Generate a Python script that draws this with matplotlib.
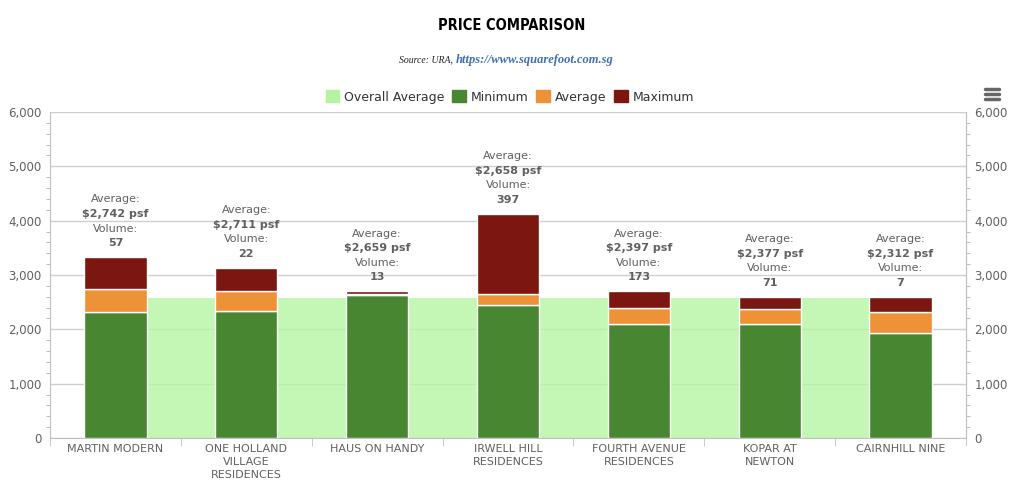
import matplotlib.pyplot as plt
from matplotlib.patches import Patch
from matplotlib.lines import Line2D
from matplotlib.ticker import MultipleLocator, FuncFormatter, FixedLocator

# data (psf)
projects = ['MARTIN MODERN', 'ONE HOLLAND\nVILLAGE\nRESIDENCES', 'HAUS ON HANDY',
            'IRWELL HILL\nRESIDENCES', 'FOURTH AVENUE\nRESIDENCES', 'KOPAR AT\nNEWTON',
            'CAIRNHILL NINE']
minimum = [2313, 2339, 2627, 2450, 2099, 2100, 1926]
average = [2742, 2711, 2659, 2658, 2397, 2377, 2312]
maximum = [3330, 3135, 2700, 4130, 2700, 2603, 2603]
volume = [57, 22, 13, 397, 173, 71, 7]
overall_avg = [2582, 2582, 2582, 2582, 2582, 2582, 2582]

c_overall = '#b4f4a0'
c_min = '#488632'
c_avg = '#ed9236'
c_max = '#7b1710'
txt = '#606060'

fig = plt.figure(figsize=(10.24, 5.01), dpi=100)
ax = fig.add_axes([50 / 1024, 1 - 438 / 501, 916 / 1024, 326 / 501])
x = list(range(len(projects)))

ax.fill_between(x, overall_avg, color=c_overall, alpha=0.78, lw=0, zorder=1)

w = 0.475
avg_part = [a - m for a, m in zip(average, minimum)]
max_part = [mx - a for mx, a in zip(maximum, average)]
ax.bar(x, minimum, w, color=c_min, edgecolor='white', lw=1, zorder=3)
ax.bar(x, avg_part, w, bottom=minimum, color=c_avg, edgecolor='white', lw=1, zorder=3)
ax.bar(x, max_part, w, bottom=average, color=c_max, edgecolor='white', lw=1, zorder=3)

for i in x:
    lines = [('Average:', 'normal'), ('${:,} psf'.format(average[i]), 'bold'),
             ('Volume:', 'normal'), (str(volume[i]), 'bold')]
    for k, (s, wt) in enumerate(lines):
        ax.annotate(s, (i, maximum[i]), xytext=(0, 41.5 - 10.5 * k), textcoords='offset points',
                    ha='center', va='center', fontsize=8, color=txt, fontweight=wt, zorder=5)

ax.set_xlim(-0.5, 6.5)
ax.set_ylim(0, 6000)
ax.yaxis.set_major_locator(MultipleLocator(1000))
ax.yaxis.set_minor_locator(MultipleLocator(200))
ax.yaxis.set_major_formatter(FuncFormatter(lambda v, p: '{:,}'.format(int(v))))
ax.set_axisbelow(True)
ax.grid(axis='y', color='#cfcfcf', lw=1)
ax.tick_params(axis='y', which='major', length=0, labelsize=8.5, labelcolor=txt, pad=6)
ax.tick_params(axis='y', which='minor', length=3, color='#b0b0b0', direction='out')

ax.set_xticks(x)
ax.set_xticklabels(projects, linespacing=1.4)
ax.xaxis.set_minor_locator(FixedLocator([i - 0.5 for i in range(8)]))
ax.tick_params(axis='x', which='major', length=0, labelsize=8, labelcolor=txt, pad=4)
ax.tick_params(axis='x', which='minor', length=6, color='#c0c0c0')

ax.spines['top'].set_visible(False)
ax.spines['bottom'].set_color('#c0c0c0')
ax.spines['left'].set_color('#c0c0c0')
ax.spines['right'].set_color('#c0c0c0')

ax2 = ax.twinx()
ax2.set_ylim(0, 6000)
ax2.yaxis.set_major_locator(MultipleLocator(1000))
ax2.yaxis.set_minor_locator(MultipleLocator(200))
ax2.yaxis.set_major_formatter(FuncFormatter(lambda v, p: '{:,}'.format(int(v))))
ax2.tick_params(axis='y', which='major', length=0, labelsize=8.5, labelcolor=txt, pad=6)
ax2.tick_params(axis='y', which='minor', length=3, color='#b0b0b0', direction='out')
for s in ['top', 'left', 'bottom']:
    ax2.spines[s].set_visible(False)
ax2.spines['right'].set_color('#c0c0c0')

fig.text(0.5, 1 - 25 / 501, 'PRICE COMPARISON', ha='center', va='center', fontsize=10.5,
         fontweight='bold', fontstretch='condensed', family='DejaVu Sans', color='black')
fig.text(0.442, 1 - 60 / 501, 'Source: URA,', ha='right', va='center', fontsize=7,
         style='italic', family=['Liberation Serif', 'DejaVu Serif'], color='#222222')
fig.text(0.445, 1 - 60 / 501, 'https://www.squarefoot.com.sg', ha='left', va='center', fontsize=9,
         style='italic', fontweight='bold', family=['Liberation Serif', 'DejaVu Serif'], color='#3d6fb6')

handles = [Patch(color=c_overall, label='Overall Average'), Patch(color=c_min, label='Minimum'),
           Patch(color=c_avg, label='Average'), Patch(color=c_max, label='Maximum')]
fig.legend(handles=handles, loc='center', bbox_to_anchor=(510 / 1024, 1 - 97 / 501), ncol=4,
           frameon=False, fontsize=9, handlelength=1.1, handleheight=1.1, handletextpad=0.4,
           columnspacing=0.6, labelcolor='#333333')

for yy in [89, 94, 99]:
    fig.add_artist(Line2D([985 / 1024, 999 / 1024], [1 - yy / 501] * 2, color='#666666',
                          lw=2.5, solid_capstyle='round'))

fig.savefig('out.png', dpi=100)
